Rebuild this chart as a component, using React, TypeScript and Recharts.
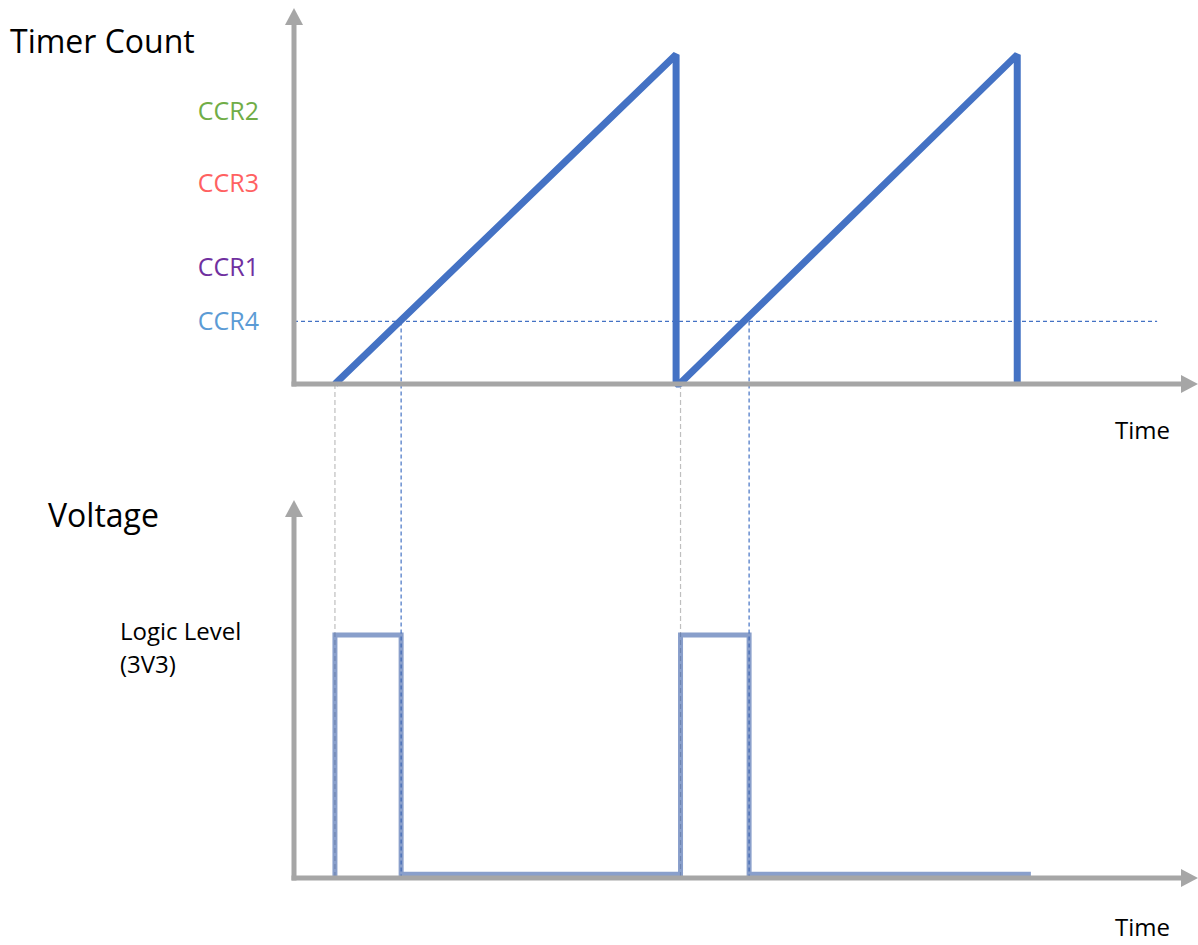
import { LineChart, Line, XAxis, YAxis, ReferenceLine, ReferenceDot } from "recharts";

const W = 1198;
const H = 945;

// timer counter (ARR = 100), time in arbitrary ticks
const timerTime = [12, 112, 112, 113, 212, 212];
const timerCount = [0, 100, 0, 0, 100, 0];

// compare registers shown on the count axis
const ccrNames = ["CCR2", "CCR3", "CCR1", "CCR4"];
const ccrValues = [83, 61, 35.5, 19];
const ccrColors = ["#70ad47", "#ff6161", "#7030a0", "#5b9bd5"];
const ccr4 = 19;
const ccr4LineEnd = 253;

// PWM output voltage
const pwmTime = [12, 12, 31.4, 31.4, 113.3, 113.3, 133.4, 133.4, 216];
const pwmVolt = [0, 3.3, 3.3, 0.05, 0.05, 3.3, 3.3, 0.05, 0.05];
const logicLevel = 3.3;

// edges linking both panels
const counterResets = [12, 113.3];
const compareMatches = [31.4, 133.4];

const timeMax = 260;
const countMax = 109;
const voltMax = 4.9;
const connectorBottom = -150; // count value level with the voltage baseline

const timerData = timerTime.map((t, i) => ({ t, count: timerCount[i] }));
const pwmData = pwmTime.map((t, i) => ({ t, volt: pwmVolt[i] }));

const AXIS = "#a6a6a6";
const BLUE = "#4472c4";
const FONT = "'Open Sans', sans-serif";

const axisLine = { stroke: AXIS, strokeWidth: 5, strokeLinecap: "square" as const };

const UpArrow = ({ cx, cy }: any) => (
  <polygon points={`${cx - 9},${cy} ${cx + 9},${cy} ${cx},${cy - 17}`} fill={AXIS} />
);

const RightArrow = ({ cx, cy }: any) => (
  <polygon points={`${cx},${cy - 9} ${cx},${cy + 9} ${cx + 17},${cy}`} fill={AXIS} />
);

const CcrTick = ({ x, y, payload }: any) => {
  const i = ccrValues.indexOf(payload.value);
  return (
    <text x={x} y={y} dy="0.355em" textAnchor="end" fill={ccrColors[i]} fontSize={25} fontFamily={FONT}>
      {ccrNames[i]}
    </text>
  );
};

const LogicTick = ({ x, y }: any) => (
  <text x={x} y={y} fontSize={24} fontFamily={FONT} fill="#000">
    <tspan x={x} dy={5}>Logic Level</tspan>
    <tspan x={x} dy={33}>(3V3)</tspan>
  </text>
);

const layer: React.CSSProperties = { position: "absolute", left: 0, top: 0 };

export default function App() {
  return (
    <div style={{ position: "relative", width: W, height: H, background: "#fff" }}>
      <style>{"body{margin:0}"}</style>

      <div style={layer}>
        <LineChart width={W} height={H} data={timerData} margin={{ top: 25, right: 17, bottom: H - 385, left: 293 }}>
          <XAxis dataKey="t" type="number" domain={[0, timeMax]} height={1} tick={false} tickLine={false} axisLine={axisLine} />
          <YAxis
            type="number"
            domain={[0, countMax]}
            width={1}
            ticks={ccrValues}
            interval={0}
            tickSize={0}
            tickMargin={35}
            tickLine={false}
            axisLine={axisLine}
            tick={<CcrTick />}
          />
          <ReferenceLine
            segment={[{ x: 0, y: ccr4 }, { x: ccr4LineEnd, y: ccr4 }]}
            stroke={BLUE}
            strokeWidth={1.2}
            strokeDasharray="4 3"
            ifOverflow="visible"
          />
          {counterResets.map(t => (
            <ReferenceLine
              key={`r-${t}`}
              segment={[{ x: t, y: 0 }, { x: t, y: connectorBottom }]}
              stroke="#bfbfbf"
              strokeWidth={1.2}
              strokeDasharray="5 3"
              ifOverflow="visible"
            />
          ))}
          {compareMatches.map(t => (
            <ReferenceLine
              key={`m-${t}`}
              segment={[{ x: t, y: ccr4 }, { x: t, y: connectorBottom }]}
              stroke={BLUE}
              strokeWidth={1.2}
              strokeDasharray="4 3"
              ifOverflow="visible"
            />
          ))}
          <Line
            dataKey="count"
            stroke={BLUE}
            strokeWidth={7}
            strokeLinejoin="bevel"
            dot={false}
            activeDot={false}
            isAnimationActive={false}
          />
          <ReferenceDot x={0} y={countMax} ifOverflow="visible" shape={UpArrow} />
          <ReferenceDot x={timeMax} y={0} ifOverflow="visible" shape={RightArrow} />
        </LineChart>
      </div>

      <div style={layer}>
        <LineChart width={W} height={H} data={pwmData} margin={{ top: 517, right: 17, bottom: H - 879, left: 293 }}>
          <XAxis dataKey="t" type="number" domain={[0, timeMax]} height={1} tick={false} tickLine={false} axisLine={axisLine} />
          <YAxis
            type="number"
            domain={[0, voltMax]}
            width={1}
            ticks={[logicLevel]}
            interval={0}
            tickSize={0}
            tickMargin={174}
            tickLine={false}
            axisLine={axisLine}
            tick={<LogicTick />}
          />
          <Line
            dataKey="volt"
            stroke="#3a5fa8"
            strokeOpacity={0.6}
            strokeWidth={5}
            dot={false}
            activeDot={false}
            isAnimationActive={false}
          />
          <ReferenceDot x={0} y={voltMax} ifOverflow="visible" shape={UpArrow} />
          <ReferenceDot x={timeMax} y={0} ifOverflow="visible" shape={RightArrow} />
        </LineChart>
      </div>

      <svg width={W} height={H} style={layer} fontFamily={FONT} fill="#000">
        <text x={10} y={53} fontSize={32}>Timer Count</text>
        <text x={1170} y={439} fontSize={24} textAnchor="end">Time</text>
        <text x={48} y={527} fontSize={32}>Voltage</text>
        <text x={1170} y={936} fontSize={24} textAnchor="end">Time</text>
      </svg>
    </div>
  );
}
